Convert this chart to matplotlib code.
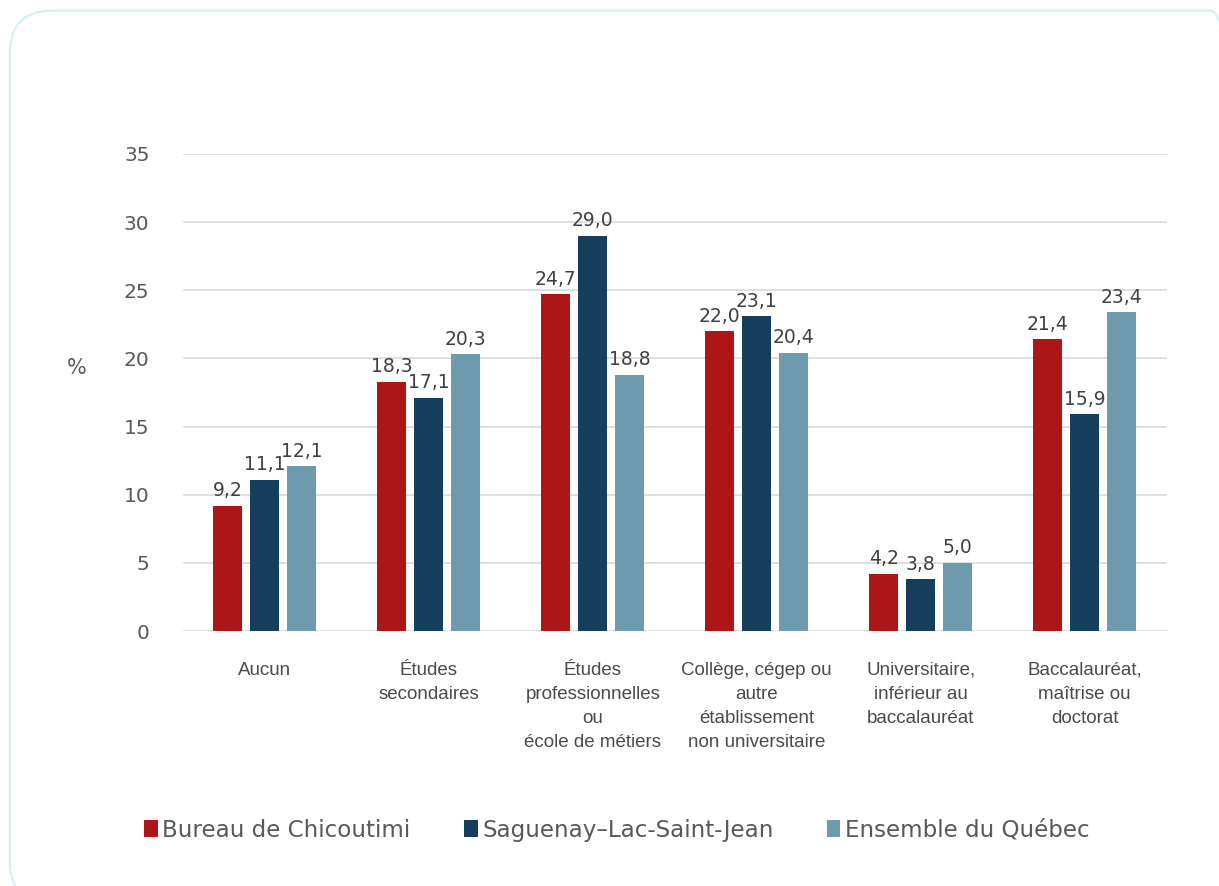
import matplotlib.pyplot as plt
import numpy as np
from matplotlib.patches import FancyBboxPatch, Patch

categories = [
    "Aucun",
    "Études\nsecondaires",
    "Études\nprofessionnelles\nou\nécole de métiers",
    "Collège, cégep ou\nautre\nétablissement\nnon universitaire",
    "Universitaire,\ninférieur au\nbaccalauréat",
    "Baccalauréat,\nmaîtrise ou\ndoctorat",
]
series_names = ["Bureau de Chicoutimi", "Saguenay\u2013Lac-Saint-Jean", "Ensemble du Québec"]
chicoutimi = [9.2, 18.3, 24.7, 22.0, 4.2, 21.4]
saguenay = [11.1, 17.1, 29.0, 23.1, 3.8, 15.9]
quebec = [12.1, 20.3, 18.8, 20.4, 5.0, 23.4]
yticks = [0, 5, 10, 15, 20, 25, 30, 35]

COLORS = ["#AE1516", "#163F5E", "#6E9AAE"]
TEXT_COLOR = "#595959"
VALUE_COLOR = "#404040"
GRID_COLOR = "#D9D9D9"
LABEL_FONT = ["DejaVu Sans"]

fig = plt.figure(figsize=(12.19, 8.86), dpi=100)
fig.patch.set_facecolor("white")

# rounded frame around the chart
frame = FancyBboxPatch((0.008, -0.02), 1.02, 1.008,
                       boxstyle="round,pad=0,rounding_size=0.035",
                       transform=fig.transFigure, facecolor="none",
                       edgecolor="#D5EEF2", linewidth=1.5,
                       mutation_aspect=1219 / 886, zorder=-1)
fig.patches.append(frame)

ax = fig.add_axes([0.150, 0.2878, 0.807, 0.5384])
ax.set_facecolor("none")

x = np.arange(len(categories))
width = 0.177
step = 0.225
for i, (vals, color) in enumerate(zip([chicoutimi, saguenay, quebec], COLORS)):
    pos = x + (i - 1) * step
    bars = ax.bar(pos, vals, width=width, color=color, zorder=3)
    for b, v in zip(bars, vals):
        ax.annotate(f"{v:.1f}".replace(".", ","),
                    (b.get_x() + b.get_width() / 2, v),
                    xytext=(0, 4), textcoords="offset points",
                    ha="center", va="bottom", fontsize=13.5,
                    color=VALUE_COLOR, family=LABEL_FONT, zorder=4)

ax.set_xlim(-0.5, len(categories) - 0.5)
ax.set_ylim(0, 35)
ax.set_yticks(yticks)
ax.set_yticklabels([str(t) for t in yticks], family=LABEL_FONT,
                   fontsize=14.5, color=TEXT_COLOR)
ax.set_xticks(x)
ax.set_xticklabels(categories, family=["Liberation Sans", "DejaVu Sans"],
                   fontsize=13.5, color="#4A4A4A", linespacing=1.55, va="top")
ax.tick_params(axis="x", length=0, pad=22)
ax.tick_params(axis="y", length=0, pad=24)
ax.grid(axis="y", color=GRID_COLOR, linewidth=1.2, zorder=0)
for s in ax.spines.values():
    s.set_visible(False)

ax.set_ylabel("%", rotation=0, family=LABEL_FONT, fontsize=15,
              color=TEXT_COLOR, va="center", ha="center")
ax.yaxis.set_label_coords(-0.108, 0.551)

handles = [Patch(facecolor=c, edgecolor="none") for c in COLORS]
fig.legend(handles, series_names, loc="center", bbox_to_anchor=(0.506, 0.063),
           ncol=3, frameon=False, handlelength=0.6, handleheight=0.8,
           handletextpad=0.2, columnspacing=2.3,
           prop={"family": LABEL_FONT, "size": 16.6},
           labelcolor=TEXT_COLOR)

fig.savefig("out.png", dpi=100)
